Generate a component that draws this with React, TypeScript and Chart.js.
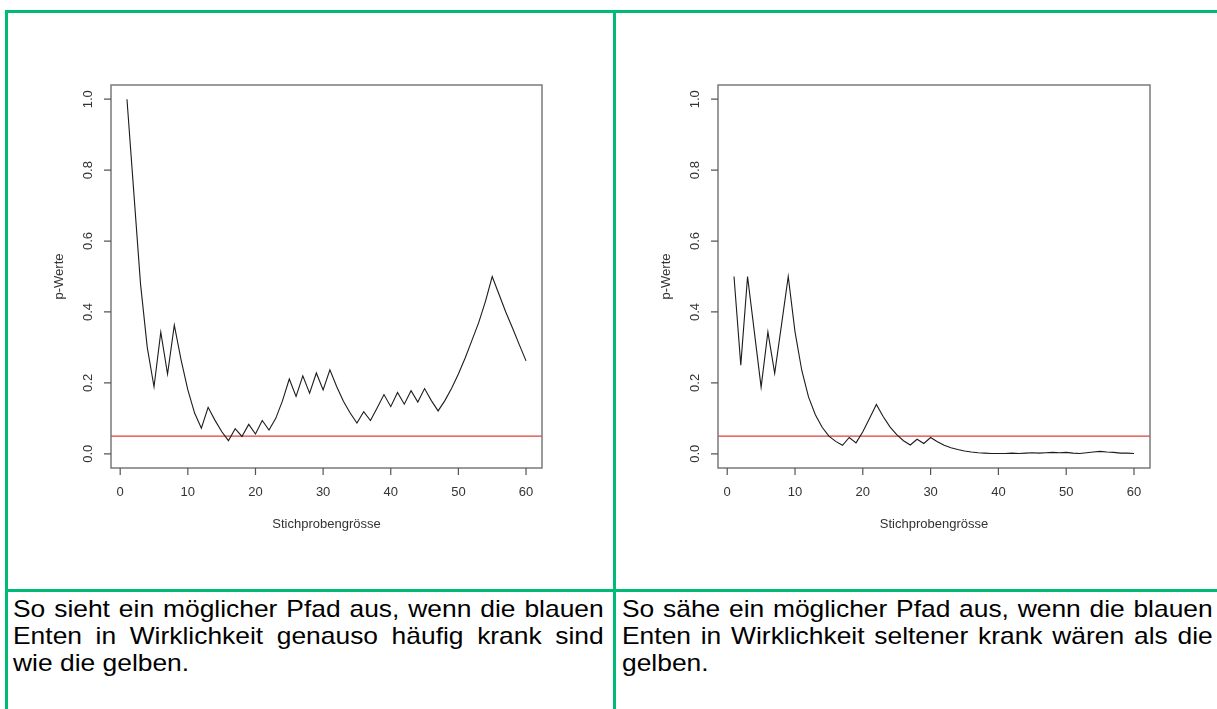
import React, { useEffect, useRef } from "react";
import { Chart, registerables } from "chart.js";

Chart.register(...registerables);

// ---------- data ----------
const sampleSizes = [
  1, 2, 3, 4, 5, 6, 7, 8, 9, 10, 11, 12, 13, 14, 15, 16, 17, 18, 19, 20,
  21, 22, 23, 24, 25, 26, 27, 28, 29, 30, 31, 32, 33, 34, 35, 36, 37, 38, 39, 40,
  41, 42, 43, 44, 45, 46, 47, 48, 49, 50, 51, 52, 53, 54, 55, 56, 57, 58, 59, 60,
];

const pValuesEqual = [
  1.0, 0.74, 0.48, 0.3, 0.189, 0.343, 0.225, 0.363, 0.265, 0.18,
  0.115, 0.072, 0.131, 0.095, 0.063, 0.037, 0.071, 0.049, 0.083, 0.056,
  0.094, 0.067, 0.1, 0.15, 0.211, 0.162, 0.22, 0.171, 0.228, 0.18,
  0.237, 0.19, 0.148, 0.115, 0.087, 0.119, 0.094, 0.13, 0.167, 0.133,
  0.173, 0.14, 0.178, 0.146, 0.184, 0.15, 0.121, 0.15, 0.185, 0.225,
  0.27, 0.32, 0.37, 0.43, 0.5, 0.45, 0.4, 0.355, 0.308, 0.262,
];

const pValuesRarer = [
  0.5, 0.25, 0.5, 0.344, 0.188, 0.344, 0.227, 0.363, 0.5, 0.344,
  0.235, 0.16, 0.11, 0.075, 0.05, 0.035, 0.024, 0.046, 0.031, 0.062,
  0.1, 0.139, 0.105, 0.076, 0.054, 0.037, 0.025, 0.041, 0.029, 0.046,
  0.034, 0.024, 0.017, 0.012, 0.008, 0.005, 0.003, 0.002, 0.001, 0.001,
  0.001, 0.002, 0.001, 0.002, 0.003, 0.002, 0.003, 0.004, 0.003, 0.004,
  0.002, 0.001, 0.003, 0.005, 0.007, 0.005, 0.004, 0.002, 0.002, 0.001,
];

const alphaLevel = 0.05;

const xTickValues = [0, 10, 20, 30, 40, 50, 60];
const yTickValues = [0, 0.2, 0.4, 0.6, 0.8, 1.0];
const yTickLabels = ["0.0", "0.2", "0.4", "0.6", "0.8", "1.0"];

const xAxisTitle = "Stichprobengrösse";
const yAxisTitle = "p-Werte";

const captionEqual =
  "So sieht ein möglicher Pfad aus, wenn die blauen Enten in Wirklichkeit genauso häufig krank sind wie die gelben.";
const captionRarer =
  "So sähe ein möglicher Pfad aus, wenn die blauen Enten in Wirklichkeit seltener krank wären als die gelben.";

// ---------- chart ----------
const AXIS_FONT = "13px 'Liberation Sans', Arial, sans-serif";

const rFramePlugin = {
  id: "rFrame",
  afterDraw(chart: any) {
    const { ctx, chartArea, scales } = chart;
    const xs = scales.x;
    const ys = scales.y;
    const { left, right, top, bottom } = chartArea;
    ctx.save();
    // box
    ctx.strokeStyle = "#7a7a7a";
    ctx.lineWidth = 1.5;
    ctx.strokeRect(left, top, right - left, bottom - top);
    // ticks
    ctx.strokeStyle = "#555";
    ctx.lineWidth = 1.2;
    ctx.beginPath();
    xTickValues.forEach((v) => {
      const px = xs.getPixelForValue(v);
      ctx.moveTo(px, bottom);
      ctx.lineTo(px, bottom + 7);
    });
    yTickValues.forEach((v) => {
      const py = ys.getPixelForValue(v);
      ctx.moveTo(left, py);
      ctx.lineTo(left - 7, py);
    });
    ctx.stroke();
    // labels
    ctx.fillStyle = "#333";
    ctx.font = AXIS_FONT;
    ctx.textAlign = "center";
    ctx.textBaseline = "middle";
    xTickValues.forEach((v) => {
      ctx.fillText(String(v), xs.getPixelForValue(v), bottom + 24);
    });
    yTickValues.forEach((v, i) => {
      const py = ys.getPixelForValue(v);
      ctx.save();
      ctx.translate(left - 23, py);
      ctx.rotate(-Math.PI / 2);
      ctx.fillText(yTickLabels[i], 0, 0);
      ctx.restore();
    });
    ctx.fillText(xAxisTitle, (left + right) / 2, bottom + 56);
    ctx.save();
    ctx.translate(left - 52, (top + bottom) / 2);
    ctx.rotate(-Math.PI / 2);
    ctx.fillText(yAxisTitle, 0, 0);
    ctx.restore();
    ctx.restore();
  },
};

type PlotProps = {
  values: number[];
  width: number;
  height: number;
  padding: { left: number; top: number; right: number; bottom: number };
};

function PValuePlot({ values, width, height, padding }: PlotProps) {
  const ref = useRef<HTMLCanvasElement | null>(null);
  useEffect(() => {
    if (!ref.current) return;
    const xMin = -1.36;
    const xMax = 62.36;
    const chart = new Chart(ref.current, {
      type: "line",
      data: {
        datasets: [
          {
            data: sampleSizes.map((n, i) => ({ x: n, y: values[i] })),
            borderColor: "#1c1c1c",
            borderWidth: 1.1,
            pointRadius: 0,
            tension: 0,
            fill: false,
          },
          {
            data: [
              { x: xMin, y: alphaLevel },
              { x: xMax, y: alphaLevel },
            ],
            borderColor: "rgb(226,62,52)",
            borderWidth: 1.3,
            pointRadius: 0,
            fill: false,
          },
        ],
      },
      options: {
        animation: false,
        responsive: false,
        events: [],
        layout: { padding },
        plugins: {
          legend: { display: false },
          tooltip: { enabled: false },
        },
        scales: {
          x: { type: "linear", min: xMin, max: xMax, display: false },
          y: { type: "linear", min: -0.04, max: 1.04, display: false },
        },
      },
      plugins: [rFramePlugin],
    });
    return () => chart.destroy();
  }, [values, width, height]);
  return <canvas ref={ref} width={width} height={height} style={{ display: "block", width, height }} />;
}

const GREEN = "#00bb76";

export default function App() {
  const lineStyle = (s: React.CSSProperties): React.CSSProperties => ({
    position: "absolute",
    background: GREEN,
    ...s,
  });
  const captionStyle = (left: number): React.CSSProperties => ({
    position: "absolute",
    left,
    top: 595,
    width: 537,
    transform: "scaleX(1.1)",
    transformOrigin: "left top",
    fontFamily: "'Liberation Sans', Arial, sans-serif",
    fontSize: 24,
    lineHeight: "27px",
    textAlign: "justify",
    color: "#000",
  });
  return (
    <div
      style={{
        position: "fixed",
        left: 0,
        top: 0,
        width: 1217,
        height: 709,
        overflow: "hidden",
        background: "#fff",
      }}
    >
      <div style={{ position: "absolute", left: 8, top: 14 }}>
        <PValuePlot
          values={pValuesEqual}
          width={604}
          height={570}
          padding={{ left: 103, top: 71, right: 70, bottom: 116 }}
        />
      </div>
      <div style={{ position: "absolute", left: 616, top: 14 }}>
        <PValuePlot
          values={pValuesRarer}
          width={600}
          height={570}
          padding={{ left: 102, top: 71, right: 66, bottom: 116 }}
        />
      </div>
      <div style={captionStyle(13)}>{captionEqual}</div>
      <div style={captionStyle(622)}>{captionRarer}</div>

      <div style={lineStyle({ left: 5, top: 10, width: 1212, height: 3 })} />
      <div style={lineStyle({ left: 5, top: 10, width: 3, height: 699 })} />
      <div style={lineStyle({ left: 613, top: 10, width: 3, height: 699 })} />
      <div style={lineStyle({ left: 5, top: 589, width: 1212, height: 3 })} />
    </div>
  );
}
